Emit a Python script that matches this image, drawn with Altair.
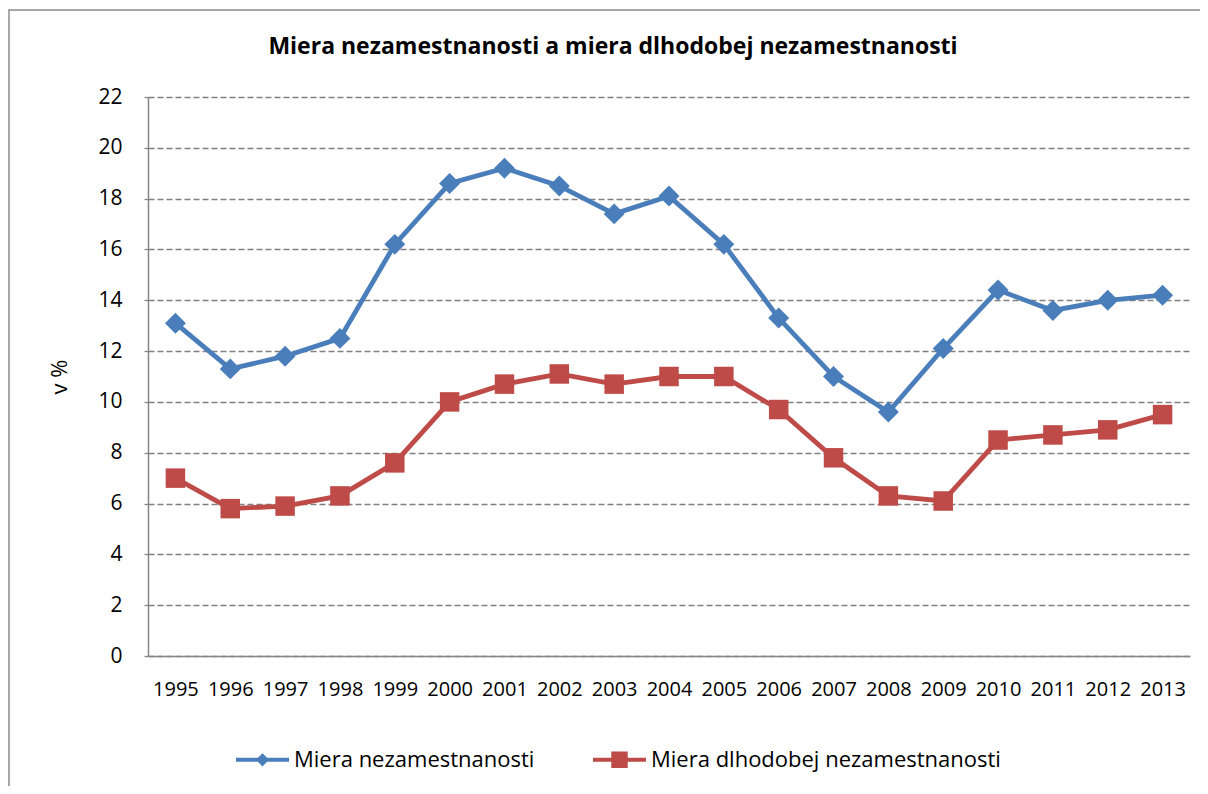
import altair as alt
import pandas as pd

years = [str(y) for y in range(1995, 2014)]
unemployment = [13.1, 11.3, 11.8, 12.5, 16.2, 18.6, 19.2, 18.5, 17.4, 18.1,
                16.2, 13.3, 11.0, 9.6, 12.1, 14.4, 13.6, 14.0, 14.2]
long_term = [7.0, 5.8, 5.9, 6.3, 7.6, 10.0, 10.7, 11.1, 10.7, 11.0,
             11.0, 9.7, 7.8, 6.3, 6.1, 8.5, 8.7, 8.9, 9.5]
series_names = ["Miera nezamestnanosti", "Miera dlhodobej nezamestnanosti"]
colors = ["#4A7EBB", "#BE4B48"]
shapes = ["diamond", "square"]
y_ticks = list(range(0, 23, 2))
title_text = "Miera nezamestnanosti a miera dlhodobej nezamestnanosti"

FONT = "Open Sans"

df = pd.DataFrame({
    "rok": years * 2,
    "hodnota": unemployment + long_term,
    "rad": [series_names[0]] * len(years) + [series_names[1]] * len(years),
})

# legend symbols: line with a marker in the middle (unit box -1..1)
legend_paths = [
    "M-1,-0.08L1,-0.08L1,0.08L-1,0.08Z M-0.25,0L0,-0.25L0.25,0L0,0.25Z",
    "M-1,-0.08L1,-0.08L1,0.08L-1,0.08Z M-0.31,-0.31L0.31,-0.31L0.31,0.31L-0.31,0.31Z",
]

x_enc = alt.X(
    "rok:O",
    sort=years,
    scale=alt.Scale(type="point", padding=0.5),
    axis=alt.Axis(title=None, labelAngle=0, ticks=False, grid=False,
                  domainColor="#868686", domainWidth=1.5,
                  labelFont=FONT, labelFontSize=20, labelColor="#000000",
                  labelPadding=23),
)
y_enc = alt.Y(
    "hodnota:Q",
    scale=alt.Scale(domain=[0, 22], nice=False),
    axis=alt.Axis(values=y_ticks, title="v %", grid=True, gridDash=[6, 3],
                  gridColor="#808080", gridWidth=1.5,
                  domainColor="#868686", domainWidth=1.5,
                  tickColor="#868686", tickSize=4, tickWidth=1.3,
                  labelFont=FONT, labelFontSize=21, labelColor="#000000",
                  labelPadding=22,
                  titleFont=FONT, titleFontSize=22, titleFontWeight="normal",
                  titleColor="#000000", titlePadding=26),
)

base = alt.Chart(df)

layers = []
# outer chart border (decoration)
border = alt.Chart(pd.DataFrame({"a": [0]})).mark_rect(
    fill=None, stroke="#8a8a8a", strokeWidth=1.5
).encode(x=alt.value(-139), x2=alt.value(1300), y=alt.value(-87), y2=alt.value(800))
layers.append(border)

for name, col, shp in zip(series_names, colors, shapes):
    sub = base.transform_filter(alt.datum.rad == name)
    layers.append(sub.mark_line(color=col, strokeWidth=4.8).encode(x=x_enc, y=y_enc))
    size = 440 if shp == "diamond" else 380
    layers.append(sub.mark_point(shape=shp, filled=True, color=col, size=size,
                                 opacity=1).encode(x=x_enc, y=y_enc))

legend = alt.Legend(
    title=None, orient="none", legendX=88, legendY=636, direction="horizontal",
    symbolSize=2809, symbolStrokeWidth=0, labelFont=FONT, labelFontSize=22,
    labelColor="#000000", labelOffset=5, labelLimit=500, columnPadding=58, padding=0,
)
legend_layer = base.transform_filter("false").mark_point(filled=True, opacity=1).encode(
    x=x_enc, y=y_enc,
    color=alt.Color("rad:N", scale=alt.Scale(domain=series_names, range=colors), legend=legend),
    shape=alt.Shape("rad:N", scale=alt.Scale(domain=series_names, range=legend_paths), legend=legend),
)
layers.append(legend_layer)

chart = alt.layer(*layers).properties(
    width=1042,
    height=559,
    autosize=alt.AutoSizeParams(type="none"),
    padding={"left": 140, "top": 89, "right": 10, "bottom": 130},
    title=alt.TitleParams(title_text, font=FONT, fontSize=23, fontWeight="bold",
                          color="#000000", anchor="middle", dx=-56, offset=-50),
    background="white",
).configure_view(stroke=None)

chart.save("out.html", embed_options={"renderer": "svg", "actions": False})
